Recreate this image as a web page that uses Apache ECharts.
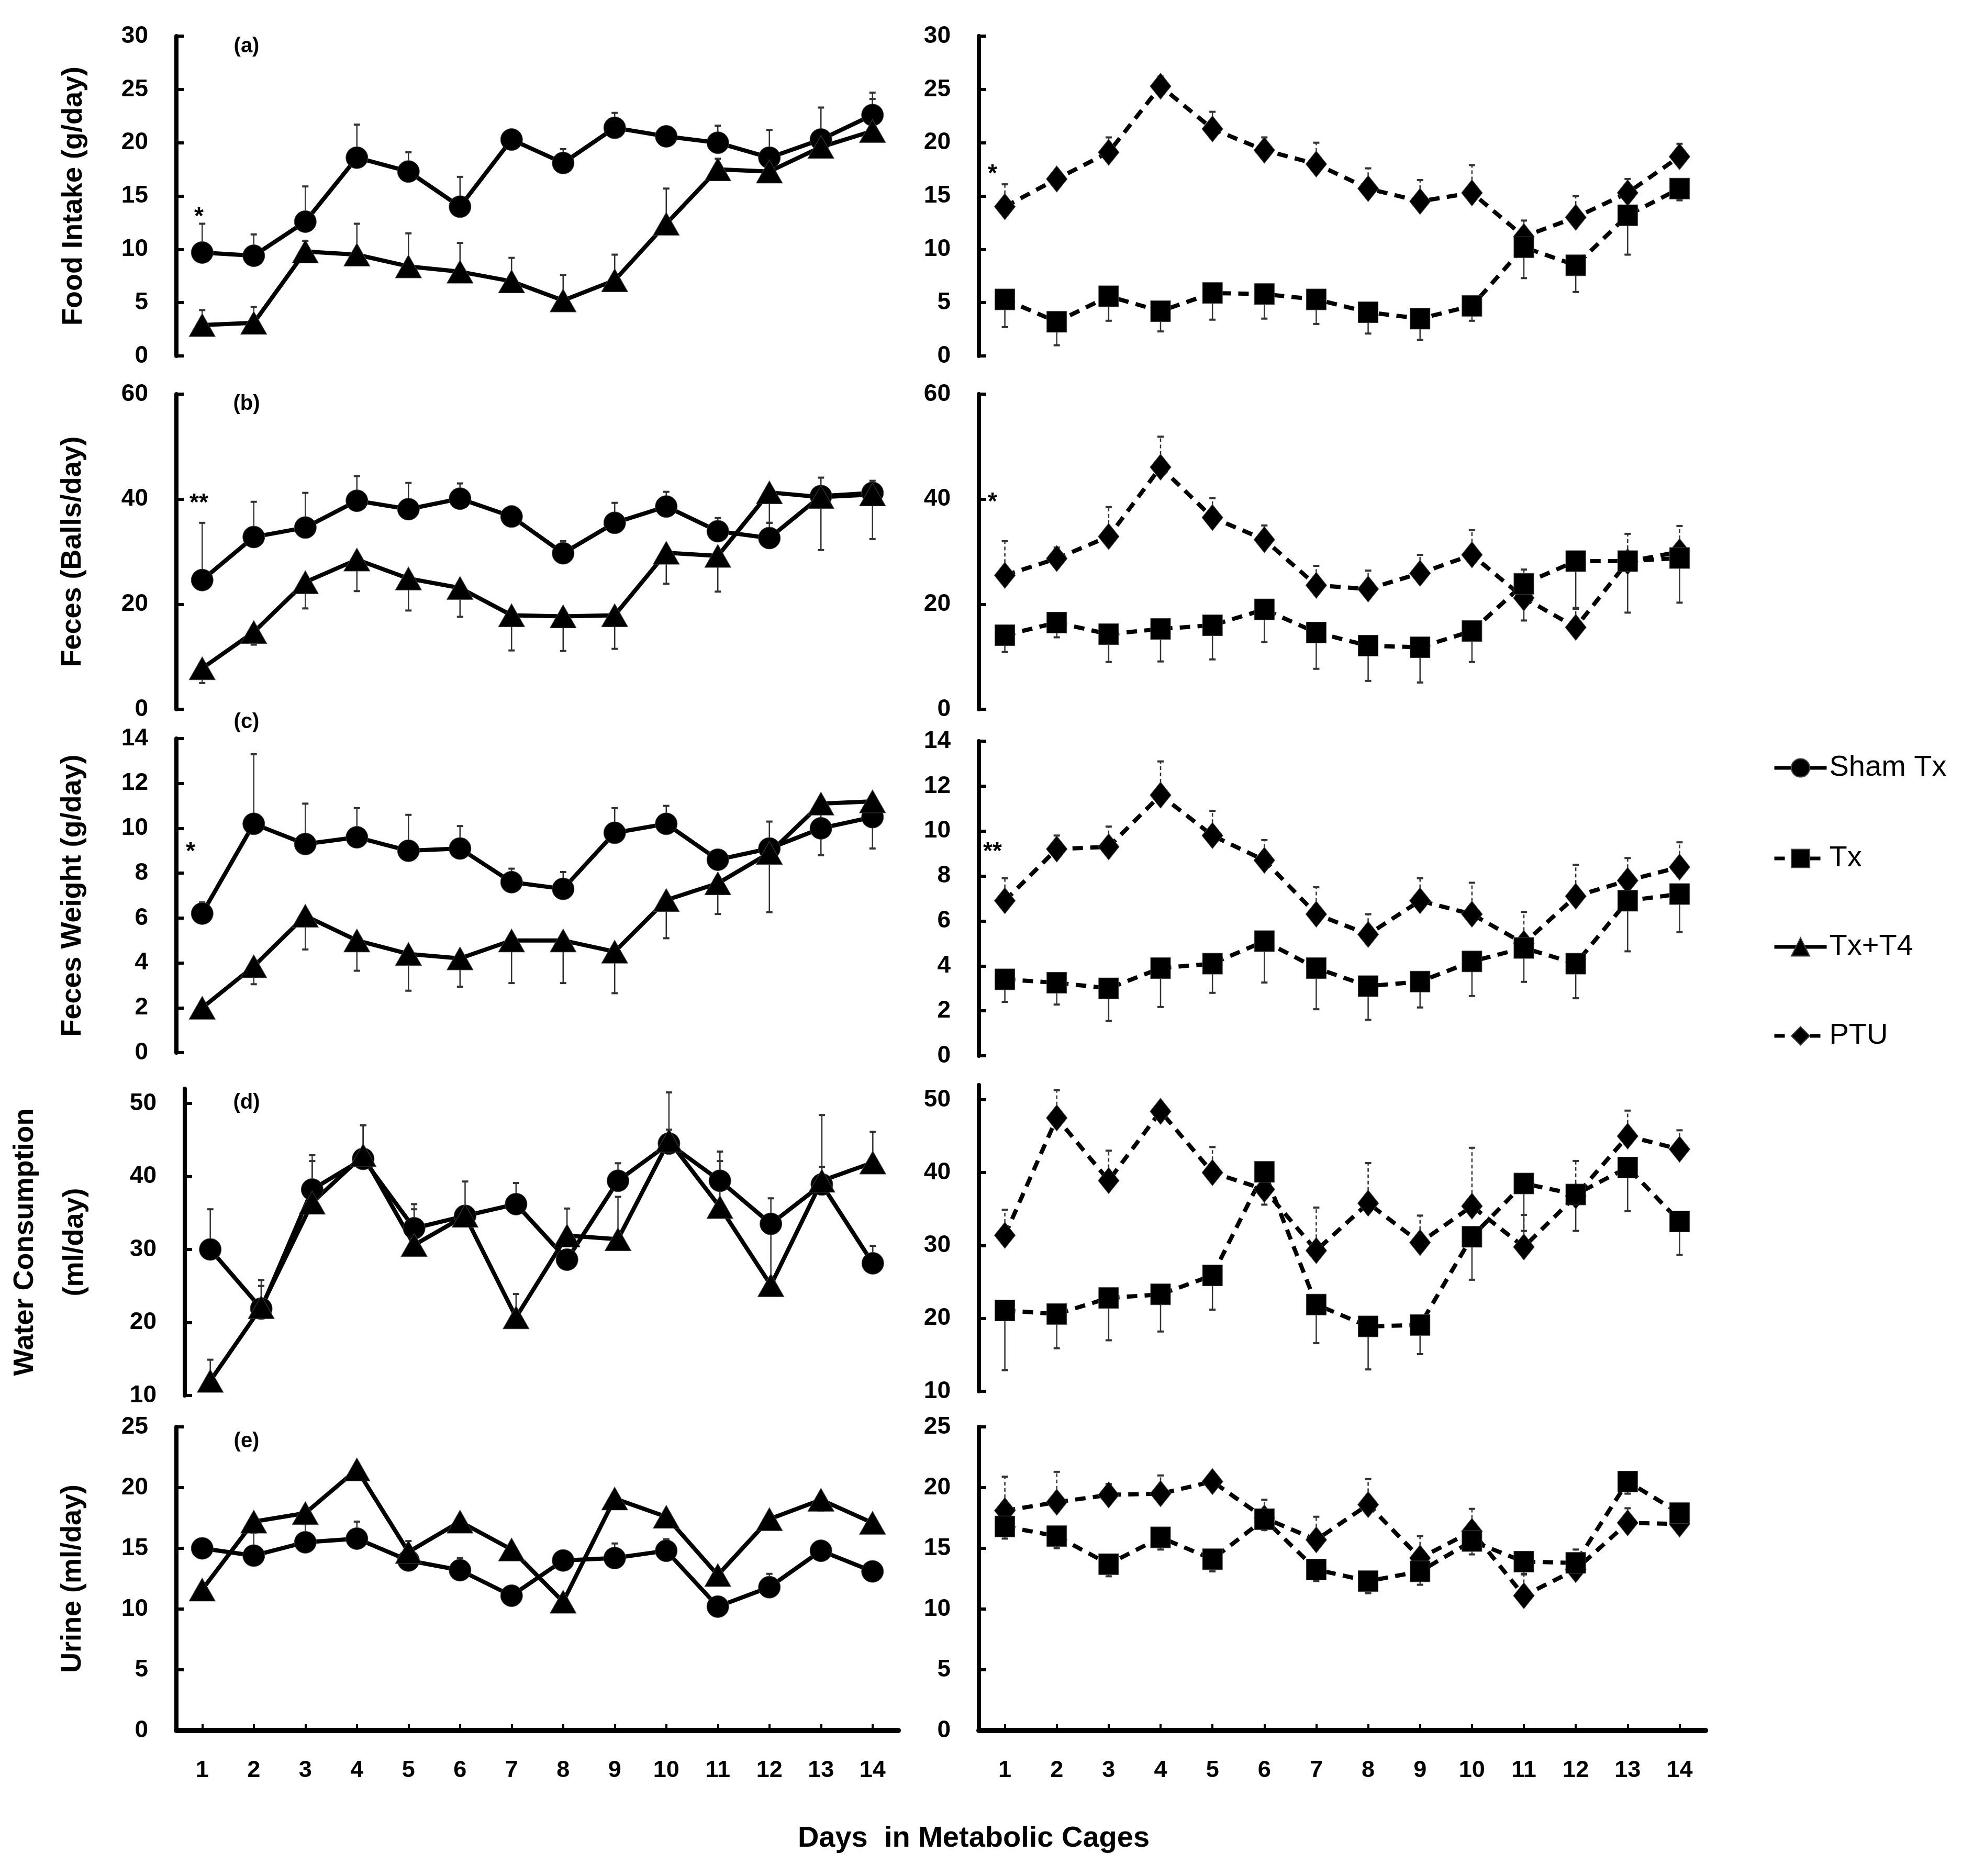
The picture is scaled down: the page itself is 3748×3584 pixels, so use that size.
<!DOCTYPE html>
<html>
<head>
<meta charset="utf-8">
<script src="https://cdn.jsdelivr.net/npm/echarts@6/dist/echarts.min.js"></script>
<style>
html, body { margin: 0; padding: 0; background: #fff; }
#main { width: 3748px; height: 3584px; }
</style>
</head>
<body>
<div id="main"></div>
<script>
var days = ['1', '2', '3', '4', '5', '6', '7', '8', '9', '10', '11', '12', '13', '14'];

// (a) food intake, g/day  (err > 0 drawn up, err < 0 drawn down)
var foodSham    = [9.7, 9.4, 12.6, 18.6, 17.3, 14.0, 20.3, 18.1, 21.4, 20.6, 20.0, 18.6, 20.3, 22.6];
var foodShamErr = [2.7, 2.0, 3.3, 3.1, 1.8, 2.8, 0.9, 1.3, 1.4, 0.9, 1.6, 2.6, 3.0, 2.1];
var foodT4      = [2.9, 3.1, 9.8, 9.5, 8.4, 7.9, 7.0, 5.2, 7.1, 12.4, 17.5, 17.3, 19.6, 21.1];
var foodT4Err   = [1.4, 1.5, 1.0, 2.9, 3.1, 2.7, 2.2, 2.4, 2.4, 3.3, 1.0, 1.5, 0.8, 3.0];
var foodTx      = [5.3, 3.2, 5.6, 4.2, 5.9, 5.8, 5.3, 4.1, 3.5, 4.7, 10.2, 8.5, 13.2, 15.7];
var foodTxErr   = [-2.6, -2.2, -2.3, -1.9, -2.5, -2.3, -2.3, -2.0, -2.0, -1.4, -2.9, -2.5, -3.7, -1.1];
var foodPTU     = [14.0, 16.6, 19.1, 25.3, 21.3, 19.3, 18.0, 15.7, 14.5, 15.3, 11.2, 13.0, 15.3, 18.7];
var foodPTUErr  = [2.1, 0.6, 1.4, 0.9, 1.6, 1.2, 2.0, 1.9, 2.0, 2.6, 1.5, 2.0, 1.3, 1.2];

// (b) feces, balls/day
var ballsSham    = [24.6, 32.8, 34.6, 39.7, 38.1, 40.1, 36.7, 29.7, 35.5, 38.6, 33.9, 32.6, 40.6, 41.2];
var ballsShamErr = [10.9, 6.7, 6.6, 4.7, 5.0, 2.9, 1.9, 2.3, 3.8, 2.8, 2.5, 2.9, 3.5, 2.3];
var ballsT4      = [7.8, 14.7, 24.2, 28.5, 24.9, 23.1, 17.9, 17.7, 17.9, 29.8, 29.2, 41.3, 40.4, 40.9];
var ballsT4Err   = [-2.8, -2.4, -5.0, -6.0, -6.1, -5.5, -6.7, -6.6, -6.4, -5.9, -6.8, -5.8, -10.1, -8.5];
var ballsTx      = [14.1, 16.5, 14.3, 15.3, 16.0, 19.0, 14.6, 12.1, 11.8, 14.9, 23.9, 28.2, 28.2, 28.8];
var ballsTxErr   = [-3.2, -2.8, -5.3, -6.2, -6.5, -6.2, -6.9, -6.7, -6.7, -5.9, -7.0, -9.1, -9.8, -8.5];
var ballsPTU     = [25.5, 28.7, 32.9, 46.1, 36.5, 32.3, 23.6, 22.9, 25.9, 29.4, 21.2, 15.6, 28.1, 30.0];
var ballsPTUErr  = [6.5, 2.1, 5.6, 5.8, 3.7, 2.7, 3.7, 3.5, 3.5, 4.7, 5.4, 3.7, 5.3, 4.9];

// (c) feces weight, g/day
var fwSham    = [6.2, 10.2, 9.3, 9.6, 9.0, 9.1, 7.6, 7.3, 9.8, 10.2, 8.6, 9.1, 10.0, 10.5];
var fwShamErr = [0.5, 3.1, 1.8, 1.3, 1.6, 1.0, 0.6, 0.75, 1.1, 0.8, 0.3, 1.2, 0.3, 0.3];
var fwT4      = [2.0, 3.85, 6.1, 5.0, 4.4, 4.2, 5.0, 5.0, 4.5, 6.8, 7.55, 8.9, 11.1, 11.2];
var fwT4Err   = [-0.4, -0.8, -1.5, -1.35, -1.64, -1.26, -1.9, -1.9, -1.85, -1.7, -1.37, -2.64, -2.3, -2.1];
var fwTx      = [3.4, 3.25, 3.0, 3.9, 4.1, 5.1, 3.9, 3.1, 3.3, 4.2, 4.8, 4.1, 6.9, 7.2];
var fwTxErr   = [-1.0, -0.97, -1.45, -1.73, -1.3, -1.84, -1.83, -1.5, -1.15, -1.54, -1.51, -1.54, -2.25, -1.7];
var fwPTU     = [6.9, 9.2, 9.3, 11.6, 9.8, 8.7, 6.3, 5.4, 6.9, 6.3, 5.0, 7.1, 7.8, 8.4];
var fwPTUErr  = [1.0, 0.6, 0.9, 1.5, 1.1, 0.9, 1.2, 0.9, 1.0, 1.4, 1.4, 1.4, 1.0, 1.1];

// (d) water consumption, ml/day
var waterSham    = [30.0, 21.9, 38.2, 42.4, 32.9, 34.6, 36.2, 28.6, 39.4, 44.5, 39.4, 33.5, 38.9, 28.1];
var waterShamErr = [5.5, 3.9, 4.7, 4.6, 3.3, 4.7, 2.9, 1.0, 2.4, 7.0, 4.0, 3.5, 9.5, 2.4];
var waterT4      = [12.0, 22.1, 36.4, 42.9, 30.6, 34.6, 20.7, 31.9, 31.4, 44.9, 35.8, 25.1, 39.4, 41.9];
var waterT4Err   = [2.9, 2.9, 5.7, 4.1, 4.9, 1.0, 3.2, 3.7, 5.8, 1.5, 6.3, 8.5, 1.9, 4.2];
var waterTx      = [21.1, 20.6, 22.8, 23.3, 25.9, 40.1, 21.9, 18.9, 19.1, 31.2, 38.5, 37.0, 40.7, 33.3];
var waterTxErr   = [-8.2, -4.7, -5.8, -5.1, -4.7, -4.5, -5.3, -5.9, -4.0, -5.9, -6.5, -5.0, -6.0, -4.6];
var waterPTU     = [31.4, 47.5, 38.9, 48.4, 40.0, 37.7, 29.3, 35.8, 30.4, 35.4, 29.8, 36.8, 45.0, 43.2];
var waterPTUErr  = [3.5, 3.8, 4.1, 1.1, 3.5, 1.5, 5.9, 5.5, 3.7, 8.0, 4.4, 4.8, 3.5, 2.6];

// (e) urine, ml/day
var urineSham    = [15.0, 14.4, 15.5, 15.8, 14.0, 13.2, 11.1, 14.0, 14.2, 14.8, 10.2, 11.8, 14.8, 13.1];
var urineShamErr = [0.3, 1.9, 1.5, 1.4, 1.6, 1.0, 0.3, 0.3, 1.2, 0.95, 0.3, 1.1, 0.3, 0.3];
var urineT4      = [11.6, 17.2, 17.9, 21.5, 14.7, 17.2, 14.9, 10.6, 19.1, 17.6, 12.8, 17.4, 19.0, 17.1];
var urineT4Err   = [-0.4, -0.9, -0.9, -0.7, -0.5, -0.8, -0.7, -0.7, -0.7, -0.8, -0.7, -0.8, -0.9, -0.8];
var urineTx      = [16.8, 16.0, 13.7, 15.9, 14.1, 17.4, 13.25, 12.3, 13.1, 15.6, 13.9, 13.8, 20.5, 17.9];
var urineTxErr   = [-1.0, -1.0, -1.0, -1.0, -1.0, -0.9, -0.95, -1.0, -1.1, -1.1, -1.0, -0.5, -1.0, -0.4];
var urinePTU     = [18.1, 18.8, 19.4, 19.5, 20.5, 17.5, 15.7, 18.6, 14.2, 16.4, 11.1, 13.25, 17.1, 17.0];
var urinePTUErr  = [2.8, 2.5, 0.9, 1.5, 0.3, 1.5, 1.9, 2.1, 1.8, 1.85, 1.75, 1.65, 1.2, 0.3];

var FONT = '"Liberation Sans", Arial, Helvetica, sans-serif';

// marker, line dash, error bar dash per group
var look = {
    'Sham Tx': { symbol: 'circle', size: 42, dash: 'solid', errDash: false },
    'Tx': { symbol: 'rect', size: [38, 40], dash: [20, 14], errDash: false },
    'Tx+T4': { symbol: 'triangle', size: [50, 44], dash: 'solid', errDash: false },
    'PTU': { symbol: 'diamond', size: [40, 50], dash: [20, 14], errDash: true }
};

var L = { left: 337, width: 1379 }, R = { left: 1870, width: 1388 };

var panels = [
    { box: L, top: 69, height: 611, min: 0, max: 30, step: 5, title: 'Food Intake (g/day)', gap: 148,
      lines: [['Sham Tx', foodSham, foodShamErr], ['Tx+T4', foodT4, foodT4Err]] },
    { box: L, top: 753, height: 602, min: 0, max: 60, step: 20, title: 'Feces (Balls/day)', gap: 150,
      lines: [['Sham Tx', ballsSham, ballsShamErr], ['Tx+T4', ballsT4, ballsT4Err]] },
    { box: L, top: 1411, height: 600, min: 0, max: 14, step: 2, title: 'Feces Weight (g/day)', gap: 150,
      lines: [['Sham Tx', fwSham, fwShamErr], ['Tx+T4', fwT4, fwT4Err]] },
    { box: L, top: 2080, height: 586, min: 10, max: 52, step: 10, title: 'Water Consumption\n(ml/day)', gap: 162,
      lines: [['Sham Tx', waterSham, waterShamErr], ['Tx+T4', waterT4, waterT4Err]] },
    { box: L, top: 2726, height: 580, min: 0, max: 25, step: 5, title: 'Urine (ml/day)', gap: 150, bottom: true,
      lines: [['Sham Tx', urineSham, urineShamErr], ['Tx+T4', urineT4, urineT4Err]] },
    { box: R, top: 69, height: 611, min: 0, max: 30, step: 5,
      lines: [['PTU', foodPTU, foodPTUErr], ['Tx', foodTx, foodTxErr]] },
    { box: R, top: 753, height: 602, min: 0, max: 60, step: 20,
      lines: [['PTU', ballsPTU, ballsPTUErr], ['Tx', ballsTx, ballsTxErr]] },
    { box: R, top: 1416, height: 601, min: 0, max: 14, step: 2,
      lines: [['PTU', fwPTU, fwPTUErr], ['Tx', fwTx, fwTxErr]] },
    { box: R, top: 2073, height: 585, min: 10, max: 52, step: 10,
      lines: [['PTU', waterPTU, waterPTUErr], ['Tx', waterTx, waterTxErr]] },
    { box: R, top: 2726, height: 580, min: 0, max: 25, step: 5, bottom: true,
      lines: [['PTU', urinePTU, urinePTUErr], ['Tx', urineTx, urineTxErr]] }
];

function ticksOf(p) {
    var out = [];
    for (var v = p.min; v <= p.max + 1e-9; v += p.step) out.push(v);
    return out;
}

function errorBars(i, name, vals, errs) {
    var dashed = look[name].errDash;
    return {
        type: 'custom', xAxisIndex: i, yAxisIndex: i, z: 1, silent: true,
        encode: { x: 0, y: [1, 2] },
        data: vals.map(function (v, k) { return [k, v, v + errs[k]]; }),
        renderItem: function (params, api) {
            var a = api.coord([api.value(0), api.value(1)]);
            var b = api.coord([api.value(0), api.value(2)]);
            return {
                type: 'group',
                children: [
                    { type: 'line', shape: { x1: a[0], y1: a[1], x2: b[0], y2: b[1] },
                      style: { stroke: '#333', lineWidth: 2.5, lineDash: dashed ? [7, 5] : null } },
                    { type: 'line', shape: { x1: b[0] - 6, y1: b[1], x2: b[0] + 6, y2: b[1] },
                      style: { stroke: '#333', lineWidth: 4 } }
                ]
            };
        }
    };
}

var grids = [], xAxes = [], yAxes = [], series = [];
panels.forEach(function (p, i) {
    grids.push({ left: p.box.left, width: p.box.width, top: p.top, height: p.height });
    xAxes.push({
        type: 'category', gridIndex: i, data: days, boundaryGap: true, show: !!p.bottom,
        axisLine: { show: true, lineStyle: { color: '#000', width: 10 } },
        axisTick: { show: true, inside: true, alignWithLabel: true, length: 12, lineStyle: { color: '#000', width: 4 } },
        axisLabel: { color: '#000', fontSize: 45, fontWeight: 'bold', fontFamily: FONT, margin: 54 },
        splitLine: { show: false }
    });
    var tv = ticksOf(p);
    yAxes.push({
        type: 'value', gridIndex: i, min: p.min, max: p.max, interval: p.step,
        name: p.title || '', nameLocation: 'middle', nameRotate: 90, nameGap: p.gap || 150,
        nameTextStyle: { color: '#000', fontSize: 54, fontWeight: 'bold', fontFamily: FONT, lineHeight: 95 },
        axisLine: { show: true, lineStyle: { color: '#000', width: 8 } },
        axisTick: { show: true, inside: true, length: 14, customValues: tv, lineStyle: { color: '#000', width: 6 } },
        axisLabel: { color: '#000', fontSize: 46, fontWeight: 'bold', fontFamily: FONT, margin: 54, customValues: tv,
            formatter: function (v) { return tv.indexOf(v) >= 0 ? String(v) : ''; } },
        splitLine: { show: false }
    });
    p.lines.forEach(function (ln) {
        series.push(errorBars(i, ln[0], ln[1], ln[2]));
    });
    p.lines.forEach(function (ln) {
        var s = look[ln[0]];
        series.push({
            type: 'line', name: ln[0], xAxisIndex: i, yAxisIndex: i, z: 3,
            data: ln[1], symbol: s.symbol, symbolSize: s.size, showAllSymbol: true,
            itemStyle: { color: '#000', borderColor: '#444', borderWidth: 1 },
            lineStyle: { color: '#000', width: 8, type: s.dash }
        });
    });
});

var legendRows = [['Sham Tx', 1467], ['Tx', 1640], ['Tx+T4', 1809], ['PTU', 1979]];
var legends = legendRows.map(function (r) {
    return {
        data: [r[0]], left: 3386, top: r[1] - 28, itemWidth: 100, itemHeight: 44, itemGap: 0,
        selectedMode: false, padding: 0,
        lineStyle: { width: 7, color: '#000' },
        textStyle: { color: '#000', fontSize: 56, fontFamily: FONT }
    };
});

function txt(x, y, s, size) {
    return { type: 'text', x: x, y: y,
        style: { text: s, fill: '#000', font: 'bold ' + size + 'px ' + FONT, textAlign: 'center', textVerticalAlign: 'middle' } };
}

var notes = [
    txt(471, 89, '(a)', 40), txt(471, 772, '(b)', 40), txt(471, 1380, '(c)', 40),
    txt(471, 2107, '(d)', 40), txt(471, 2754, '(e)', 40),
    txt(380, 415, '*', 46), txt(1896, 333, '*', 46),
    txt(380, 962, '**', 46), txt(1896, 960, '*', 46),
    txt(364, 1628, '*', 46), txt(1896, 1628, '**', 46),
    txt(1860, 3513, 'Days  in Metabolic Cages', 56)
];

var chart = echarts.init(document.getElementById('main'));
chart.setOption({
    backgroundColor: '#fff',
    animation: false,
    grid: grids,
    xAxis: xAxes,
    yAxis: yAxes,
    legend: legends,
    graphic: notes,
    series: series
});
</script>
</body>
</html>
